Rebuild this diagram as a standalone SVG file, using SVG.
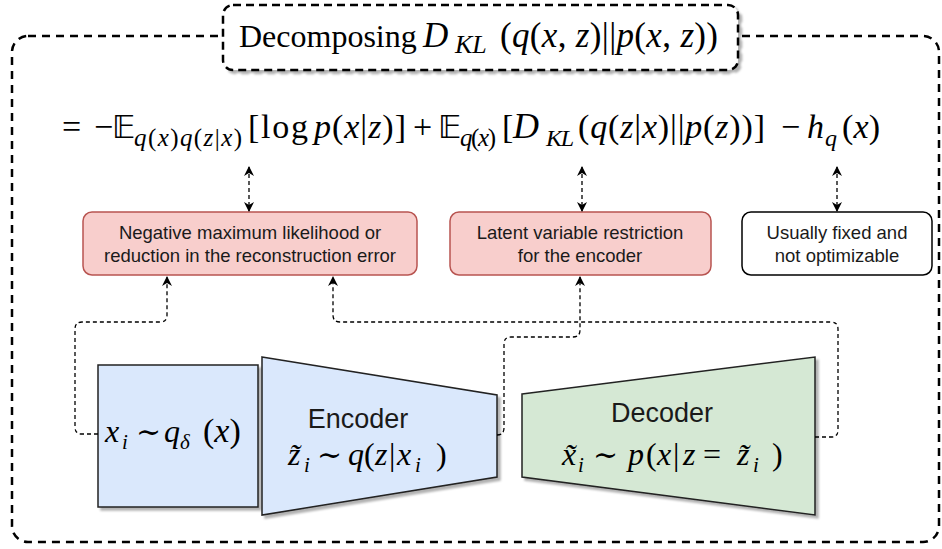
<svg xmlns="http://www.w3.org/2000/svg" width="942" height="549" viewBox="0 0 942 549">
<style>
.m{font-family:"Liberation Serif","DejaVu Serif",serif;fill:#000}
.i{font-style:italic}
.s{font-family:"Liberation Sans",Arial,sans-serif;fill:#1a1a1a;text-anchor:middle}
.bb{font-family:"DejaVu Sans","DejaVu Serif","Noto Sans",sans-serif}
.sym{font-family:"DejaVu Serif","DejaVu Sans",serif}
.conn{fill:none;stroke:#000;stroke-width:1.3;stroke-dasharray:4 3}
.red{fill:#f8cecc;stroke:#b85450;stroke-width:1.5}
.wht{fill:#fff;stroke:#000;stroke-width:1.5}
.blk{stroke:#222;stroke-width:1.5}
</style>
<defs>
<marker id="ah" viewBox="0 0 10 10" refX="9" refY="5" markerWidth="10" markerHeight="10" markerUnits="userSpaceOnUse" orient="auto-start-reverse">
<path d="M0,0 L10,5 L0,10 L3,5 z" fill="#000"/>
</marker>
<filter id="sh" x="-5%" y="-5%" width="115%" height="120%">
<feDropShadow dx="3" dy="3" stdDeviation="1" flood-color="#000" flood-opacity="0.3"/>
</filter>
</defs>

<!-- outer frame -->
<rect x="12" y="36" width="927" height="506" rx="16" fill="none" stroke="#000" stroke-width="2.5" stroke-dasharray="8 6"/>

<!-- title -->
<g id="title">
<rect x="223" y="5" width="515" height="65" rx="10" fill="#fff" stroke="#000" stroke-width="2.5" stroke-dasharray="8 5" filter="url(#sh)"/>
<text class="m" x="239" y="47" font-size="32">Decomposing <tspan class="i" x="423" font-size="35">D</tspan><tspan class="i" x="455" dy="6" font-size="26">KL</tspan></text>
<text class="m" x="500" y="47" font-size="35" textLength="218">(<tspan class="i">q</tspan>(<tspan class="i">x</tspan>, <tspan class="i">z</tspan>)||<tspan class="i">p</tspan>(<tspan class="i">x</tspan>, <tspan class="i">z</tspan>))</text>
</g>

<!-- equation -->
<g id="equation">
<text class="m" x="62" y="138" font-size="34">=</text>
<text class="m" x="94" y="138" font-size="34">−</text>
<text class="m bb" x="112" y="138" font-size="32">𝔼</text>
<text class="m" x="134" y="146" font-size="25" textLength="108"><tspan class="i">q</tspan>(<tspan class="i">x</tspan>)<tspan class="i">q</tspan>(<tspan class="i">z</tspan>|<tspan class="i">x</tspan>)</text>
<text class="m" x="248" y="138" font-size="34" textLength="60">[log</text>
<text class="m" x="314" y="138" font-size="34" textLength="92"><tspan class="i">p</tspan>(<tspan class="i">x</tspan>|<tspan class="i">z</tspan>)]</text>
<text class="m" x="413" y="138" font-size="34">+</text>
<text class="m bb" x="438" y="138" font-size="32">𝔼</text>
<text class="m" x="460" y="146" font-size="25" textLength="36"><tspan class="i">q</tspan>(<tspan class="i">x</tspan>)</text>
<text class="m" x="502" y="138" font-size="34">[</text>
<text class="m i" x="513" y="138" font-size="36">D</text>
<text class="m i" x="546" y="146" font-size="24" textLength="28">KL</text>
<text class="m" x="578" y="138" font-size="34" textLength="187">(<tspan class="i">q</tspan>(<tspan class="i">z</tspan>|<tspan class="i">x</tspan>)||<tspan class="i">p</tspan>(<tspan class="i">z</tspan>))]</text>
<text class="m" x="781" y="138" font-size="34">−</text>
<text class="m i" x="807" y="138" font-size="34">h</text>
<text class="m i" x="825" y="146" font-size="24">q</text>
<text class="m" x="842" y="138" font-size="34" textLength="38">(<tspan class="i">x</tspan>)</text>
</g>

<!-- boxes -->
<g id="box-nll">
<rect class="red" x="83" y="212" width="334" height="63" rx="9"/>
<text class="s" x="250" y="239" font-size="18.5">Negative maximum likelihood or</text>
<text class="s" x="250" y="262" font-size="18.5">reduction in the reconstruction error</text>
</g>
<g id="box-latent">
<rect class="red" x="450" y="212" width="261" height="63" rx="9"/>
<text class="s" x="580" y="239" font-size="18.5">Latent variable restriction</text>
<text class="s" x="580" y="262" font-size="18.5">for the encoder</text>
</g>
<g id="box-fixed">
<rect class="wht" x="742" y="212" width="190" height="63" rx="9"/>
<text class="s" x="837" y="239" font-size="18.5">Usually fixed and</text>
<text class="s" x="837" y="262" font-size="18.5">not optimizable</text>
</g>

<!-- input -->
<g id="input">
<rect class="blk" x="98" y="365" width="160" height="142" fill="#dae8fc" filter="url(#sh)"/>
<text class="m i" x="105" y="442" font-size="32">x</text>
<text class="m i" x="122" y="449" font-size="21">i</text>
<text class="m sym" x="136" y="442" font-size="30">∼</text>
<text class="m i" x="164" y="442" font-size="32">q</text>
<text class="m i" x="180" y="449" font-size="21">δ</text>
<text class="m" x="203" y="442" font-size="34">(<tspan class="i">x</tspan>)</text>
</g>

<!-- encoder -->
<g id="encoder">
<polygon class="blk" points="262,357 497,395 497,477 262,515" fill="#dae8fc" filter="url(#sh)"/>
<text class="s" x="358" y="428" font-size="27" fill="#000">Encoder</text>
<text class="m i" x="288" y="465" font-size="32">z̃</text>
<text class="m i" x="304" y="472" font-size="21">i</text>
<text class="m sym" x="317" y="465" font-size="30">∼</text>
<text class="m i" x="348" y="465" font-size="32">q</text>
<text class="m" x="364" y="465" font-size="32">(</text>
<text class="m i" x="375" y="465" font-size="32">z</text>
<text class="m" x="389" y="465" font-size="32">|</text>
<text class="m i" x="397" y="465" font-size="32">x</text>
<text class="m i" x="415" y="472" font-size="21">i</text>
<text class="m" x="436" y="465" font-size="32">)</text>
</g>

<!-- decoder -->
<g id="decoder">
<polygon class="blk" points="522,394 815,357 815,515 522,477" fill="#d5e8d4" filter="url(#sh)"/>
<text class="s" x="662" y="422" font-size="27" fill="#000">Decoder</text>
<text class="m i" x="562" y="465" font-size="32">x̃</text>
<text class="m i" x="578" y="472" font-size="21">i</text>
<text class="m sym" x="593" y="465" font-size="30">∼</text>
<text class="m i" x="628" y="465" font-size="32">p</text>
<text class="m" x="646" y="465" font-size="32">(</text>
<text class="m i" x="657" y="465" font-size="32">x</text>
<text class="m" x="673" y="465" font-size="32">|</text>
<text class="m i" x="683" y="465" font-size="32">z</text>
<text class="m" x="703" y="465" font-size="32">=</text>
<text class="m i" x="737" y="465" font-size="32">z̃</text>
<text class="m i" x="753" y="472" font-size="21">i</text>
<text class="m" x="772" y="465" font-size="32">)</text>
</g>

<!-- connectors -->
<g id="connectors">
<path class="conn" d="M249,167 L249,211" marker-start="url(#ah)" marker-end="url(#ah)"/>
<path class="conn" d="M582,167 L582,211" marker-start="url(#ah)" marker-end="url(#ah)"/>
<path class="conn" d="M837,167 L837,211" marker-start="url(#ah)" marker-end="url(#ah)"/>
<path class="conn" d="M98,434 L82,434 Q75,434 75,427 L75,329 Q75,322 82,322 L160,322 Q167,322 167,315 L167,277" marker-end="url(#ah)"/>
<path class="conn" d="M497,435 Q504,435 504,428 L504,344 Q504,337 511,337 L573,337 Q580,337 580,330 L580,277" marker-end="url(#ah)"/>
<path class="conn" d="M815,437 L831,437 Q838,437 838,430 L838,329 Q838,322 831,322 L340,322 Q333,322 333,315 L333,277" marker-end="url(#ah)"/>
</g>
</svg>
